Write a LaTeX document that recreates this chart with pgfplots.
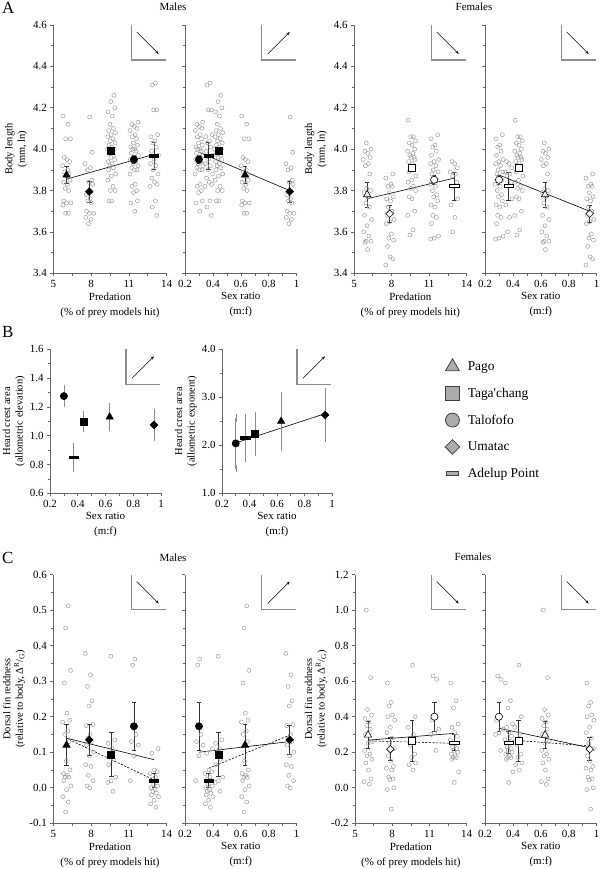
\documentclass[border=0pt]{standalone}
\usepackage{fontspec}
\setmainfont{Liberation Serif}
\usepackage{pgfplots}
\pgfplotsset{compat=1.18}
\usepackage{pgfplotstable}
\usetikzlibrary{arrows.meta}

% flat bar mark (Adelup Point) and square-on-point diamond
\pgfdeclareplotmark{hbar}{%
  \pgfpathrectangle{\pgfqpoint{-\pgfplotmarksize}{-0.3\pgfplotmarksize}}{\pgfqpoint{2\pgfplotmarksize}{0.6\pgfplotmarksize}}%
  \pgfusepathqfillstroke}
\pgfdeclareplotmark{rdia}{%
  \pgfpathmoveto{\pgfqpoint{0pt}{\pgfplotmarksize}}%
  \pgfpathlineto{\pgfqpoint{\pgfplotmarksize}{0pt}}%
  \pgfpathlineto{\pgfqpoint{0pt}{-\pgfplotmarksize}}%
  \pgfpathlineto{\pgfqpoint{-\pgfplotmarksize}{0pt}}%
  \pgfpathclose\pgfusepathqfillstroke}

% ---- individual fish: jitter j, value y ----
% body length, males
\pgfplotstableread[row sep=\\]{j y\\-0.8 4.16\\0.4 4.12\\-0.2 4.05\\0.9 4.05\\-0.5 3.96\\0.1 3.95\\0.7 3.94\\-0.9 3.92\\0.3 3.90\\-0.4 3.89\\0.6 3.88\\-0.1 3.87\\0.8 3.85\\-0.7 3.84\\0.2 3.83\\-0.3 3.81\\0.5 3.80\\-0.6 3.75\\1.0 3.74\\0.0 3.74\\-0.8 3.73\\0.4 3.69\\-0.2 3.69\\}\AMpago
\pgfplotstableread[row sep=\\]{j y\\0.1 4.155\\0.7 3.985\\-0.9 3.93\\0.3 3.91\\-0.4 3.90\\0.6 3.85\\-0.1 3.84\\0.8 3.83\\-0.7 3.78\\0.2 3.76\\-0.3 3.75\\0.5 3.74\\-0.6 3.70\\1.0 3.69\\0.0 3.69\\-0.8 3.67\\0.4 3.66\\-0.2 3.64\\}\AMumatac
\pgfplotstableread[row sep=\\]{j y\\0.6 4.26\\-0.1 4.23\\0.8 4.20\\-0.7 4.18\\0.2 4.16\\-0.3 4.12\\0.5 4.10\\-0.6 4.09\\1.0 4.08\\0.0 4.07\\-0.8 4.06\\0.4 4.05\\-0.2 4.04\\0.9 4.03\\-0.5 4.02\\0.1 4.01\\0.7 4.00\\-0.9 4.00\\0.3 3.99\\-0.4 3.98\\0.6 3.97\\-0.1 3.96\\0.8 3.95\\-0.7 3.94\\0.2 3.93\\-0.3 3.92\\0.5 3.91\\-0.6 3.90\\1.0 3.88\\0.0 3.87\\-0.8 3.85\\0.4 3.82\\-0.2 3.80\\0.9 3.80\\-0.5 3.75\\0.1 3.75\\}\AMtaga
\pgfplotstableread[row sep=\\]{j y\\0.9 4.13\\-0.5 4.12\\0.1 4.11\\0.7 4.10\\-0.9 4.09\\0.3 4.07\\-0.4 4.06\\0.6 4.05\\-0.1 4.03\\0.8 4.02\\-0.7 4.01\\0.2 4.00\\-0.3 4.00\\0.5 3.99\\-0.6 3.98\\1.0 3.97\\0.0 3.96\\-0.8 3.95\\0.4 3.94\\-0.2 3.93\\0.9 3.92\\-0.5 3.91\\0.1 3.90\\0.7 3.90\\-0.9 3.88\\0.3 3.83\\-0.4 3.82\\0.6 3.80\\-0.1 3.79\\0.8 3.75\\-0.7 3.74\\0.2 3.70\\}\AMtalo
\pgfplotstableread[row sep=\\]{j y\\0.3 4.32\\-0.4 4.31\\0.6 4.19\\-0.1 4.19\\0.8 4.07\\-0.7 4.06\\0.2 4.04\\-0.3 4.03\\0.5 4.01\\-0.6 3.99\\1.0 3.97\\0.0 3.95\\-0.8 3.93\\0.4 3.92\\-0.2 3.90\\0.9 3.88\\-0.5 3.86\\0.1 3.84\\0.7 3.83\\-0.9 3.82\\0.3 3.75\\-0.4 3.72\\0.6 3.68\\}\AMadel
% body length, females
\pgfplotstableread[row sep=\\]{j y\\-0.2 4.03\\0.9 4.00\\-0.5 3.99\\0.1 3.98\\0.7 3.96\\-0.9 3.95\\0.3 3.93\\-0.4 3.92\\0.6 3.88\\-0.1 3.81\\0.8 3.80\\-0.7 3.79\\0.2 3.77\\-0.3 3.74\\0.5 3.72\\-0.6 3.68\\1.0 3.66\\0.0 3.63\\-0.8 3.60\\0.4 3.58\\-0.2 3.555\\0.9 3.555\\-0.5 3.55\\0.1 3.515\\}\AFpago
\pgfplotstableread[row sep=\\]{j y\\0.7 3.88\\-0.9 3.86\\0.3 3.83\\-0.4 3.82\\0.6 3.82\\-0.1 3.79\\0.8 3.77\\-0.7 3.76\\0.2 3.75\\-0.3 3.72\\0.5 3.70\\-0.6 3.68\\1.0 3.66\\0.0 3.65\\-0.8 3.64\\0.4 3.59\\-0.2 3.57\\0.9 3.56\\-0.5 3.53\\0.1 3.48\\0.7 3.47\\-0.9 3.44\\}\AFumatac
\pgfplotstableread[row sep=\\]{j y\\-0.8 4.14\\0.4 4.06\\-0.2 4.06\\0.9 4.04\\-0.5 4.03\\0.1 4.02\\0.7 4.00\\-0.9 3.99\\0.3 3.98\\-0.4 3.97\\0.6 3.96\\-0.1 3.96\\0.8 3.95\\-0.7 3.94\\0.2 3.93\\-0.3 3.92\\0.5 3.91\\-0.6 3.89\\1.0 3.87\\0.0 3.85\\-0.8 3.84\\0.4 3.82\\-0.2 3.81\\0.9 3.80\\-0.5 3.77\\0.1 3.76\\0.7 3.70\\-0.9 3.68\\0.3 3.61\\-0.4 3.585\\}\AFtaga
\pgfplotstableread[row sep=\\]{j y\\0.8 4.07\\-0.7 4.05\\0.2 4.02\\-0.3 4.01\\0.5 3.99\\-0.6 3.97\\1.0 3.95\\0.0 3.94\\-0.8 3.93\\0.4 3.92\\-0.2 3.90\\0.9 3.89\\-0.5 3.88\\0.1 3.86\\0.7 3.85\\-0.9 3.83\\0.3 3.82\\-0.4 3.80\\0.6 3.78\\-0.1 3.77\\0.8 3.75\\-0.7 3.73\\0.2 3.72\\-0.3 3.68\\0.5 3.67\\-0.6 3.64\\1.0 3.58\\0.0 3.57\\-0.8 3.565\\}\AFtalo
\pgfplotstableread[row sep=\\]{j y\\-0.5 3.94\\0.1 3.93\\0.7 3.91\\-0.9 3.89\\0.3 3.88\\-0.4 3.87\\0.6 3.84\\-0.1 3.82\\0.8 3.76\\-0.7 3.73\\0.2 3.67\\-0.3 3.60\\}\AFadel
% dorsal fin redness, males
\pgfplotstableread[row sep=\\]{j y\\0.4 0.512\\-0.2 0.45\\0.9 0.33\\-0.5 0.295\\0.1 0.21\\0.7 0.19\\-0.9 0.185\\0.3 0.16\\-0.4 0.15\\0.6 0.13\\-0.1 0.075\\0.8 0.05\\-0.7 0.04\\0.2 0.035\\-0.3 0.03\\0.5 0.03\\-0.6 0.02\\1.0 0.005\\0.0 -0.005\\-0.8 -0.025\\0.4 -0.04\\-0.2 -0.068\\}\CMpago
\pgfplotstableread[row sep=\\]{j y\\-0.9 0.378\\0.3 0.318\\-0.4 0.285\\0.6 0.245\\-0.1 0.23\\0.8 0.178\\-0.7 0.175\\0.2 0.15\\-0.3 0.14\\0.5 0.13\\-0.6 0.12\\1.0 0.10\\0.0 0.09\\-0.8 0.065\\0.4 0.06\\-0.2 0.035\\0.9 0.02\\-0.5 0.005\\0.1 0.0\\}\CMumatac
\pgfplotstableread[row sep=\\]{j y\\-0.1 0.37\\0.8 0.135\\-0.7 0.125\\0.2 0.11\\-0.3 0.09\\0.5 0.08\\-0.6 0.065\\1.0 0.03\\0.0 0.02\\-0.8 0.015\\0.4 -0.01\\}\CMtaga
\pgfplotstableread[row sep=\\]{j y\\0.2 0.362\\-0.3 0.345\\0.5 0.15\\-0.6 0.13\\1.0 0.12\\0.0 0.09\\-0.8 0.02\\}\CMtalo
\pgfplotstableread[row sep=\\]{j y\\0.9 0.11\\-0.5 0.097\\0.1 0.05\\0.7 0.045\\-0.9 0.04\\0.3 0.03\\-0.4 0.025\\0.6 0.02\\-0.1 0.01\\0.8 0.005\\-0.7 0.0\\0.2 -0.005\\-0.3 -0.01\\0.5 -0.015\\-0.6 -0.02\\1.0 -0.025\\0.0 -0.035\\-0.8 -0.045\\0.4 -0.055\\}\CMadel
% dorsal fin redness, females
\pgfplotstableread[row sep=\\]{j y\\-0.4 1.0\\0.6 0.62\\-0.1 0.44\\0.8 0.41\\-0.7 0.39\\0.2 0.37\\-0.3 0.35\\0.5 0.33\\-0.6 0.30\\1.0 0.26\\0.0 0.25\\-0.8 0.21\\0.4 0.19\\-0.2 0.18\\0.9 0.16\\-0.5 0.14\\0.1 0.10\\0.7 0.05\\-0.9 0.035\\0.3 0.02\\}\CFpago
\pgfplotstableread[row sep=\\]{j y\\-0.7 0.59\\0.2 0.48\\-0.3 0.46\\0.5 0.41\\-0.6 0.40\\1.0 0.38\\0.0 0.34\\-0.8 0.31\\0.4 0.28\\-0.2 0.25\\0.9 0.22\\-0.5 0.18\\0.1 0.15\\0.7 0.12\\-0.9 0.11\\0.3 0.10\\-0.4 0.06\\0.6 0.05\\-0.1 0.045\\0.8 0.0\\-0.7 -0.01\\0.2 -0.12\\}\CFumatac
\pgfplotstableread[row sep=\\]{j y\\0.1 0.69\\0.7 0.40\\-0.9 0.34\\0.3 0.30\\-0.4 0.24\\0.6 0.19\\-0.1 0.17\\0.8 0.14\\-0.7 0.13\\0.2 0.10\\}\CFtaga
\pgfplotstableread[row sep=\\]{j y\\-0.3 0.63\\0.5 0.61\\-0.6 0.38\\1.0 0.33\\0.0 0.31\\-0.8 0.30\\0.4 0.21\\}\CFtalo
\pgfplotstableread[row sep=\\]{j y\\-0.8 0.59\\0.4 0.49\\-0.2 0.45\\0.9 0.36\\-0.5 0.34\\0.1 0.31\\0.7 0.29\\-0.9 0.27\\0.3 0.25\\-0.4 0.23\\0.6 0.22\\-0.1 0.21\\0.8 0.20\\-0.7 0.19\\0.2 0.18\\-0.3 0.17\\0.5 0.17\\-0.6 0.16\\1.0 0.09\\0.0 0.03\\}\CFadel

\pgfplotsset{
  base/.style={
    scale only axis, anchor=south west, clip=false,
    axis x line*=bottom, axis y line*=left,
    axis line style={black!60, line width=0.7pt},
    every tick/.style={black!60, line width=0.6pt},
    tick align=outside, major tick length=3bp, minor tick length=2.5bp,
    minor x tick num=1, minor y tick num=1,
    /pgf/number format/assume math mode=true,
    tick label style={font=\fontsize{11}{13}\selectfont},
    yticklabel style={/pgf/number format/fixed, /pgf/number format/fixed zerofill, /pgf/number format/precision=1},
    every axis x label/.style={at={(rel axis cs:0.5,0)}, anchor=north, yshift=-19bp,
      font=\fontsize{11}{15}\selectfont, align=center, inner sep=0pt},
    every axis y label/.style={rotate=90, anchor=south,
      font=\fontsize{10.5}{12.5}\selectfont, align=center, inner sep=0pt},
  },
  predax/.style={xmin=5, xmax=14, xtick={5,8,11,14}, xlabel={Predation\\(\% of prey models hit)}},
  sexax/.style={xmin=0.2, xmax=1, xtick={0.2,0.4,0.6,0.8,1}, xlabel={Sex ratio\\(m:f)}},
  lenax/.style={ymin=3.4, ymax=4.6, ytick={3.4,3.6,3.8,4.0,4.2,4.4,4.6}},
  scat/.style={only marks, mark=o, mark size=2bp, black!38, line width=0.5pt},
  meanpt/.style={only marks, black, line width=0.6pt,
    error bars/y dir=both, error bars/y explicit,
    error bars/error bar style={black!80, line width=0.6pt},
    error bars/error mark options={rotate=90, black!80, line width=0.6pt, mark size=2.3bp}},
  mtri/.style={mark=triangle*, mark size=4.2bp},
  msq/.style={mark=square*, mark size=3.5bp},
  mcir/.style={mark=*, mark size=3.6bp},
  mdia/.style={mark=rdia, mark size=3.8bp},
  mbar/.style={mark=hbar, mark size=4.7bp},
  fem/.style={mark options={fill=white, draw=black, line width=0.6pt}},
  trend/.style={black, line width=0.6pt, no marks},
  dtrend/.style={black, line width=0.6pt, no marks, dash pattern=on 2pt off 1.6pt},
  legimg/.style={only marks, mark options={fill=black!33, draw=black!75, line width=0.8pt}},
}

\newcommand{\scat}[3]{\addplot[scat] table[x expr={#2+#3*\thisrow{j}}, y=y] {#1};}
\newcommand{\predscat}[5]{\scat{#1}{6.05}{0.35}\scat{#2}{7.85}{0.35}\scat{#3}{9.6}{0.35}\scat{#4}{11.4}{0.35}\scat{#5}{13.0}{0.35}}
\newcommand{\sexscat}[5]{\scat{#1}{0.63}{0.03}\scat{#2}{0.95}{0.03}\scat{#3}{0.44}{0.03}\scat{#4}{0.30}{0.03}\scat{#5}{0.37}{0.03}}
\newcommand{\mpt}[4]{\addplot[meanpt,#1] coordinates {(#2,#3) +- (0,#4)};}

\newcommand{\insetL}[1]{%
  \draw[black!45, line width=1.1pt] ([shift={(-35bp,0bp)}]#1.north east) -- ([shift={(-35bp,-35bp)}]#1.north east) -- ([shift={(-1bp,-35bp)}]#1.north east);}
\newcommand{\insetdown}[1]{\insetL{#1}%
  \draw[black, line width=0.5pt, -{Stealth[length=3.5bp,width=2.6bp]}] ([shift={(-30bp,-7bp)}]#1.north east) -- ([shift={(-8bp,-29bp)}]#1.north east);}
\newcommand{\insetup}[1]{\insetL{#1}%
  \draw[black, line width=0.5pt, -{Stealth[length=3.5bp,width=2.6bp]}] ([shift={(-29bp,-29bp)}]#1.north east) -- ([shift={(-7bp,-7bp)}]#1.north east);}

\begin{document}
\begin{tikzpicture}
\path[use as bounding box] (0,0) rectangle (600bp,-869bp);

% ================= A =================
\node[font=\fontsize{17}{17}\selectfont, anchor=north west, inner sep=0pt] at (2bp,-2bp) {A};
\node[font=\fontsize{11}{13}\selectfont] at (173bp,-7bp) {Males};
\node[font=\fontsize{11}{13}\selectfont] at (474bp,-7bp) {Females};

\begin{axis}[base, predax, lenax, name=a1, at={(53.3bp,-273.3bp)}, width=113.4bp, height=248.3bp,
  ylabel={Body length\\(mm, ln)}, ylabel style={at={([xshift=-26bp]rel axis cs:0,0.5)}}]
\predscat{\AMpago}{\AMumatac}{\AMtaga}{\AMtalo}{\AMadel}
\addplot[trend] coordinates {(6.05,3.855) (13.0,3.975)};
\mpt{mtri}{6.05}{3.875}{0.04}
\mpt{mdia}{7.85}{3.795}{0.05}
\mpt{msq}{9.6}{3.99}{0.015}
\mpt{mcir}{11.4}{3.95}{0.02}
\mpt{mbar}{13.0}{3.967}{0.065}
\end{axis}
\insetdown{a1}

\begin{axis}[base, sexax, lenax, name=a2, at={(185bp,-273.3bp)}, width=111.7bp, height=248.3bp, yticklabels={}]
\sexscat{\AMpago}{\AMumatac}{\AMtaga}{\AMtalo}{\AMadel}
\addplot[trend] coordinates {(0.30,3.985) (0.95,3.80)};
\mpt{mcir}{0.30}{3.95}{0.02}
\mpt{mbar}{0.37}{3.967}{0.065}
\mpt{msq}{0.44}{3.99}{0.015}
\mpt{mtri}{0.63}{3.875}{0.04}
\mpt{mdia}{0.95}{3.795}{0.05}
\end{axis}
\insetup{a2}

\begin{axis}[base, predax, lenax, name=a3, at={(354bp,-273.3bp)}, width=112.7bp, height=248.3bp,
  ylabel={Body length\\(mm, ln)}, ylabel style={at={([xshift=-27bp]rel axis cs:0,0.5)}}]
\predscat{\AFpago}{\AFumatac}{\AFtaga}{\AFtalo}{\AFadel}
\addplot[trend] coordinates {(6.05,3.76) (13.0,3.86)};
\mpt{mtri,fem}{6.05}{3.78}{0.06}
\mpt{mdia,fem}{7.85}{3.688}{0.04}
\mpt{msq,fem}{9.6}{3.908}{0.015}
\mpt{mcir,fem}{11.4}{3.852}{0.02}
\mpt{mbar,fem}{13.0}{3.822}{0.067}
\end{axis}
\insetdown{a3}

\begin{axis}[base, sexax, lenax, name=a4, at={(485bp,-273.3bp)}, width=111.7bp, height=248.3bp, yticklabels={}]
\sexscat{\AFpago}{\AFumatac}{\AFtaga}{\AFtalo}{\AFadel}
\addplot[trend] coordinates {(0.30,3.875) (0.95,3.70)};
\mpt{mcir,fem}{0.30}{3.852}{0.02}
\mpt{mbar,fem}{0.37}{3.822}{0.067}
\mpt{msq,fem}{0.44}{3.908}{0.015}
\mpt{mtri,fem}{0.63}{3.78}{0.06}
\mpt{mdia,fem}{0.95}{3.688}{0.04}
\end{axis}
\insetdown{a4}

% ================= B =================
\node[font=\fontsize{17}{17}\selectfont, anchor=north west, inner sep=0pt] at (2bp,-326bp) {B};

\begin{axis}[base, sexax, name=b1, at={(50bp,-493.3bp)}, width=111bp, height=144bp,
  ymin=0.6, ymax=1.6, ytick={0.6,0.8,1.0,1.2,1.4,1.6},
  ylabel={Heard crest area\\(allometric elevation)}, ylabel style={at={([xshift=-25bp]rel axis cs:0,0.5)}},
  meanpt/.append style={error bars/error bar style={black!45}, error bars/error mark options={black!45}}]
\mpt{mcir}{0.30}{1.275}{0.05}
\mpt{mbar}{0.37}{0.85}{0.067}
\mpt{msq}{0.44}{1.10}{0.05}
\mpt{mtri}{0.63}{1.13}{0.07}
\mpt{mdia}{0.95}{1.075}{0.085}
\end{axis}
\insetup{b1}

\begin{axis}[base, sexax, name=b2, at={(222bp,-493.3bp)}, width=110bp, height=144bp,
  ymin=1, ymax=4, ytick={1,2,3,4},
  ylabel={Heard crest area\\(allometric exponent)}, ylabel style={at={([xshift=-25bp]rel axis cs:0,0.5)}},
  meanpt/.append style={error bars/error bar style={black!45}, error bars/error mark options={black!45}},
  legend style={draw=none, fill=none, at={(2.0,0.95)}, anchor=north west, column sep=6bp,
    font=\fontsize{13.5}{15}\selectfont, row sep=12bp, cells={anchor=west}}]
\addlegendimage{legimg, mark=triangle*, mark size=8bp}\addlegendentry{Pago}
\addlegendimage{legimg, mark=square*, mark size=6.8bp}\addlegendentry{Taga\textquotesingle chang}
\addlegendimage{legimg, mark=*, mark size=7bp}\addlegendentry{Talofofo}
\addlegendimage{legimg, mark=rdia, mark size=7.3bp}\addlegendentry{Umatac}
\addlegendimage{legimg, mark=hbar, mark size=6.3bp}\addlegendentry{Adelup Point}
\addplot[trend] coordinates {(0.30,2.05) (0.95,2.66)};
\mpt{mcir}{0.30}{2.04}{0.53}
\mpt{mbar}{0.37}{2.15}{0.41}
\mpt{msq}{0.44}{2.24}{0.38}
\mpt{mtri}{0.63}{2.50}{0.53}
\mpt{mdia}{0.95}{2.63}{0.48}
\end{axis}
\insetup{b2}

% ================= C =================
\node[font=\fontsize{17}{17}\selectfont, anchor=north west, inner sep=0pt] at (2bp,-552bp) {C};
\node[font=\fontsize{11}{13}\selectfont] at (173bp,-558bp) {Males};
\node[font=\fontsize{11}{13}\selectfont] at (473bp,-557bp) {Females};

\begin{axis}[base, predax, name=c1, at={(53.3bp,-823.3bp)}, width=113.4bp, height=248.8bp,
  ymin=-0.1, ymax=0.6, ytick={-0.1,0,0.1,0.2,0.3,0.4,0.5,0.6},
  ylabel={Dorsal fin reddness\\(relative to body, Δ\textsuperscript{R}/\textsubscript{G})},
  ylabel style={at={([xshift=-28bp]rel axis cs:0,0.5)}}]
\predscat{\CMpago}{\CMumatac}{\CMtaga}{\CMtalo}{\CMadel}
\addplot[trend] coordinates {(6.0,0.14) (13.0,0.079)};
\addplot[dtrend] coordinates {(6.0,0.14) (13.0,0.022)};
\mpt{mtri}{6.05}{0.12}{0.058}
\mpt{mdia}{7.85}{0.135}{0.043}
\mpt{msq}{9.6}{0.094}{0.061}
\mpt{mcir}{11.4}{0.173}{0.068}
\mpt{mbar}{13.0}{0.02}{0.02}
\end{axis}
\insetdown{c1}

\begin{axis}[base, sexax, name=c2, at={(185bp,-823.3bp)}, width=111.7bp, height=248.8bp,
  ymin=-0.1, ymax=0.6, ytick={-0.1,0,0.1,0.2,0.3,0.4,0.5,0.6}, yticklabels={}]
\sexscat{\CMpago}{\CMumatac}{\CMtaga}{\CMtalo}{\CMadel}
\addplot[trend] coordinates {(0.30,0.10) (0.95,0.13)};
\addplot[dtrend] coordinates {(0.37,0.055) (0.95,0.148)};
\mpt{mcir}{0.30}{0.173}{0.068}
\mpt{mbar}{0.37}{0.02}{0.02}
\mpt{msq}{0.44}{0.094}{0.061}
\mpt{mtri}{0.63}{0.12}{0.058}
\mpt{mdia}{0.95}{0.135}{0.04}
\end{axis}
\insetup{c2}

\begin{axis}[base, predax, name=c3, at={(355bp,-823.3bp)}, width=111.7bp, height=248.8bp,
  ymin=-0.2, ymax=1.2, ytick={-0.2,0,0.2,0.4,0.6,0.8,1.0,1.2},
  ylabel={Dorsal fin reddness\\(relative to body, Δ\textsuperscript{R}/\textsubscript{G})},
  ylabel style={at={([xshift=-28bp]rel axis cs:0,0.5)}}]
\predscat{\CFpago}{\CFumatac}{\CFtaga}{\CFtalo}{\CFadel}
\addplot[trend] coordinates {(6.05,0.268) (13.0,0.306)};
\addplot[dtrend] coordinates {(6.05,0.264) (13.0,0.25)};
\mpt{mtri,fem}{6.05}{0.297}{0.075}
\mpt{mdia,fem}{7.85}{0.217}{0.065}
\mpt{msq,fem}{9.6}{0.264}{0.113}
\mpt{mcir,fem}{11.4}{0.40}{0.08}
\mpt{mbar,fem}{13.0}{0.255}{0.045}
\end{axis}
\insetdown{c3}

\begin{axis}[base, sexax, name=c4, at={(485bp,-823.3bp)}, width=111.7bp, height=248.8bp,
  ymin=-0.2, ymax=1.2, ytick={-0.2,0,0.2,0.4,0.6,0.8,1.0,1.2}, yticklabels={}]
\sexscat{\CFpago}{\CFumatac}{\CFtaga}{\CFtalo}{\CFadel}
\addplot[trend] coordinates {(0.30,0.335) (0.95,0.225)};
\addplot[dtrend] coordinates {(0.37,0.27) (0.95,0.235)};
\mpt{mcir,fem}{0.30}{0.40}{0.08}
\mpt{mbar,fem}{0.37}{0.255}{0.06}
\mpt{msq,fem}{0.44}{0.264}{0.113}
\mpt{mtri,fem}{0.63}{0.297}{0.075}
\mpt{mdia,fem}{0.95}{0.217}{0.065}
\end{axis}
\insetdown{c4}
\end{tikzpicture}
\end{document}
